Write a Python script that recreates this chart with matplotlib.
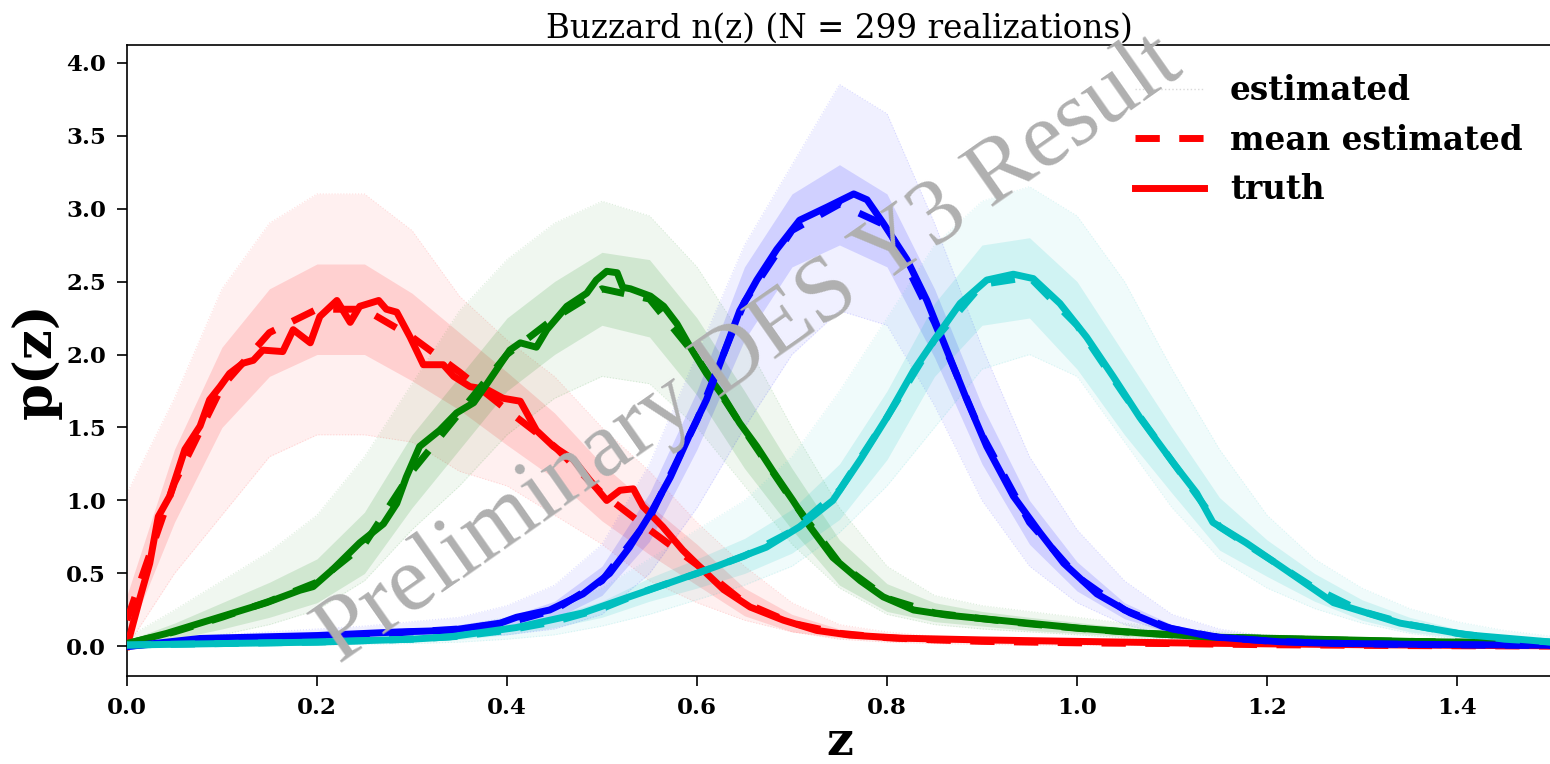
import numpy as np
import matplotlib
matplotlib.use('Agg')
import matplotlib.pyplot as plt
from matplotlib.lines import Line2D

plt.rcParams['font.family'] = 'DejaVu Serif'

# common grid for the smooth curves (mean and realization envelopes)
zg = np.round(np.arange(0, 1.5001, 0.05), 3)

# bin 1 (red)
z_truth_1 = [0.0, 0.014, 0.024, 0.033, 0.045, 0.061, 0.077, 0.087, 0.098, 0.108,
             0.122, 0.133, 0.143, 0.164, 0.175, 0.193, 0.203, 0.221, 0.235, 0.245,
             0.265, 0.273, 0.284, 0.298, 0.312, 0.333, 0.344, 0.361, 0.379, 0.396,
             0.414, 0.431, 0.449, 0.47, 0.487, 0.505, 0.519, 0.533, 0.543, 0.564,
             0.585, 0.607, 0.628, 0.656, 0.691, 0.726, 0.761, 0.814, 0.9, 1.0,
             1.1, 1.2, 1.3, 1.4, 1.5]
p_truth_1 = [0.0, 0.34, 0.57, 0.89, 1.03, 1.35, 1.51, 1.69, 1.78, 1.87,
             1.94, 1.96, 2.03, 2.02, 2.17, 2.08, 2.26, 2.37, 2.22, 2.33,
             2.37, 2.31, 2.29, 2.12, 1.93, 1.93, 1.85, 1.78, 1.76, 1.70,
             1.68, 1.48, 1.37, 1.28, 1.14, 1.00, 1.07, 1.08, 0.96, 0.82,
             0.66, 0.52, 0.39, 0.27, 0.18, 0.11, 0.078, 0.057, 0.045, 0.035,
             0.025, 0.018, 0.012, 0.008, 0.005]
mean_1 = [0.18, 1.12, 1.78, 2.15, 2.31, 2.31, 2.12, 1.88, 1.62, 1.37, 1.05, 0.8, 0.56,
          0.3, 0.16, 0.09, 0.06, 0.045, 0.035, 0.03, 0.025, 0.022, 0.02, 0.016, 0.012,
          0.01, 0.008, 0.006, 0.005, 0.004, 0.003]
hi_1 = [1.05, 1.7, 2.45, 2.9, 3.1, 3.1, 2.85, 2.4, 2.1, 1.85, 1.5, 1.2, 0.85, 0.55, 0.3,
        0.15, 0.1, 0.07, 0.05, 0.04, 0.03, 0.03, 0.025, 0.02, 0.015, 0.012, 0.01, 0.008,
        0.006, 0.005, 0.004]
lo_1 = [0.0, 0.5, 0.9, 1.3, 1.45, 1.45, 1.4, 1.2, 1.1, 0.9, 0.7, 0.45, 0.3, 0.18, 0.1,
        0.05, 0.03, 0.02, 0.015, 0.01, 0.01, 0.008, 0.006, 0.005, 0.004, 0.003, 0.002,
        0.002, 0.001, 0.001, 0.0]
core_hi_1 = [0.35, 1.35, 2.05, 2.45, 2.62, 2.62, 2.42, 2.15, 1.88, 1.6, 1.25, 0.97, 0.7,
             0.4, 0.22, 0.12, 0.08, 0.06, 0.045, 0.038, 0.032, 0.028, 0.024, 0.02, 0.015,
             0.012, 0.01, 0.008, 0.006, 0.005, 0.004]
core_lo_1 = [0.05, 0.85, 1.5, 1.85, 2.0, 2.0, 1.82, 1.62, 1.38, 1.15, 0.86, 0.63, 0.42,
             0.21, 0.1, 0.06, 0.04, 0.03, 0.025, 0.022, 0.018, 0.016, 0.014, 0.012, 0.009,
             0.007, 0.006, 0.004, 0.003, 0.002, 0.002]

# bin 2 (green)
z_truth_2 = [0.0, 0.042, 0.077, 0.112, 0.147, 0.182, 0.196, 0.217, 0.245, 0.27,
             0.284, 0.294, 0.308, 0.329, 0.347, 0.365, 0.379, 0.403, 0.414, 0.431,
             0.442, 0.463, 0.484, 0.494, 0.505, 0.516, 0.522, 0.53, 0.551, 0.565,
             0.579, 0.593, 0.61, 0.628, 0.645, 0.663, 0.68, 0.701, 0.719, 0.743,
             0.772, 0.796, 0.828, 0.863, 0.933, 1.003, 1.073, 1.143, 1.249, 1.35, 1.5]
p_truth_2 = [0.02, 0.09, 0.16, 0.23, 0.30, 0.385, 0.41, 0.53, 0.71, 0.84,
             0.98, 1.16, 1.37, 1.48, 1.60, 1.67, 1.80, 2.03, 2.08, 2.05,
             2.17, 2.33, 2.42, 2.51, 2.57, 2.56, 2.46, 2.45, 2.40, 2.33,
             2.21, 2.05, 1.87, 1.71, 1.53, 1.37, 1.20, 1.00, 0.82, 0.61,
             0.45, 0.34, 0.25, 0.215, 0.17, 0.125, 0.09, 0.064, 0.05, 0.035, 0.02]
mean_2 = [0.02, 0.1, 0.2, 0.31, 0.44, 0.7, 1.2, 1.6, 2.0, 2.25, 2.45, 2.38, 1.98, 1.48,
          1.0, 0.57, 0.33, 0.23, 0.19, 0.155, 0.125, 0.1, 0.08, 0.065, 0.055, 0.048, 0.04,
          0.035, 0.03, 0.025, 0.02]
hi_2 = [0.06, 0.25, 0.45, 0.65, 0.9, 1.3, 1.8, 2.3, 2.65, 2.9, 3.05, 2.95, 2.6, 2.1, 1.5,
        0.95, 0.55, 0.35, 0.28, 0.24, 0.2, 0.16, 0.13, 0.1, 0.08, 0.07, 0.06, 0.05, 0.045,
        0.04, 0.035]
lo_2 = [0.0, 0.03, 0.08, 0.15, 0.25, 0.45, 0.8, 1.1, 1.45, 1.7, 1.85, 1.8, 1.5, 1.1, 0.7,
        0.4, 0.22, 0.15, 0.12, 0.1, 0.08, 0.06, 0.05, 0.04, 0.035, 0.03, 0.025, 0.02, 0.015,
        0.012, 0.01]
core_hi_2 = [0.04, 0.16, 0.3, 0.44, 0.6, 0.92, 1.45, 1.85, 2.25, 2.5, 2.7, 2.65, 2.25,
             1.75, 1.22, 0.73, 0.43, 0.3, 0.24, 0.2, 0.165, 0.13, 0.1, 0.085, 0.07, 0.06,
             0.052, 0.045, 0.04, 0.033, 0.027]
core_lo_2 = [0.005, 0.05, 0.12, 0.2, 0.3, 0.5, 0.95, 1.35, 1.75, 2.0, 2.2, 2.12, 1.72,
             1.22, 0.8, 0.42, 0.24, 0.17, 0.14, 0.11, 0.09, 0.07, 0.06, 0.048, 0.04, 0.035,
             0.03, 0.025, 0.02, 0.017, 0.014]

# bin 3 (blue)
z_truth_3 = [0.0, 0.077, 0.2, 0.287, 0.34, 0.393, 0.41, 0.445, 0.48, 0.508,
             0.529, 0.551, 0.572, 0.593, 0.61, 0.645, 0.663, 0.684, 0.708, 0.737,
             0.765, 0.779, 0.796, 0.821, 0.842, 0.863, 0.884, 0.905, 0.933, 0.961,
             0.986, 1.021, 1.056, 1.091, 1.143, 1.214, 1.266, 1.35, 1.5]
p_truth_3 = [0.0, 0.055, 0.075, 0.10, 0.11, 0.16, 0.2, 0.25, 0.36, 0.50,
             0.68, 0.91, 1.16, 1.46, 1.69, 2.30, 2.51, 2.72, 2.92, 3.01,
             3.10, 3.06, 2.90, 2.65, 2.37, 2.03, 1.69, 1.37, 1.03, 0.78,
             0.57, 0.36, 0.23, 0.135, 0.066, 0.032, 0.022, 0.015, 0.008]
mean_3 = [0.0, 0.03, 0.05, 0.06, 0.07, 0.08, 0.1, 0.12, 0.16, 0.25, 0.45, 0.88, 1.55,
          2.36, 2.85, 3.03, 2.88, 2.22, 1.45, 0.85, 0.48, 0.25, 0.12, 0.062, 0.038, 0.025,
          0.018, 0.014, 0.011, 0.009, 0.007]
hi_3 = [0.01, 0.05, 0.08, 0.1, 0.12, 0.14, 0.17, 0.2, 0.28, 0.42, 0.7, 1.25, 2.0, 2.75,
        3.3, 3.85, 3.65, 2.9, 2.05, 1.3, 0.8, 0.45, 0.22, 0.12, 0.07, 0.04, 0.03, 0.025,
        0.02, 0.015, 0.012]
lo_3 = [0.0, 0.01, 0.02, 0.03, 0.04, 0.05, 0.06, 0.07, 0.08, 0.12, 0.22, 0.5, 0.95, 1.5,
        2.0, 2.3, 2.2, 1.65, 1.0, 0.55, 0.3, 0.15, 0.07, 0.035, 0.02, 0.012, 0.008, 0.006,
        0.005, 0.004, 0.003]
core_hi_3 = [0.005, 0.04, 0.06, 0.075, 0.09, 0.1, 0.12, 0.15, 0.2, 0.31, 0.55, 1.05, 1.75,
             2.6, 3.1, 3.3, 3.1, 2.45, 1.65, 1.0, 0.58, 0.3, 0.15, 0.08, 0.05, 0.03,
             0.022, 0.017, 0.013, 0.011, 0.009]
core_lo_3 = [0.0, 0.02, 0.04, 0.05, 0.055, 0.065, 0.08, 0.095, 0.12, 0.19, 0.35, 0.72, 1.35,
             2.1, 2.6, 2.75, 2.6, 1.98, 1.25, 0.7, 0.38, 0.19, 0.09, 0.047, 0.028, 0.018,
             0.013, 0.01, 0.008, 0.006, 0.005]

# bin 4 (cyan)
z_truth_4 = [0.0, 0.2, 0.3, 0.34, 0.41, 0.48, 0.551, 0.621, 0.673, 0.708,
             0.743, 0.772, 0.80, 0.828, 0.852, 0.877, 0.905, 0.933, 0.954, 0.982,
             1.01, 1.038, 1.066, 1.101, 1.126, 1.143, 1.178, 1.214, 1.27, 1.34,
             1.41, 1.5]
p_truth_4 = [0.01, 0.03, 0.05, 0.066, 0.13, 0.23, 0.39, 0.55, 0.68, 0.82,
             1.00, 1.28, 1.57, 1.89, 2.12, 2.35, 2.51, 2.55, 2.52, 2.35,
             2.12, 1.85, 1.57, 1.26, 1.05, 0.85, 0.71, 0.55, 0.30, 0.16,
             0.08, 0.03]
mean_4 = [0.01, 0.015, 0.02, 0.025, 0.03, 0.04, 0.05, 0.07, 0.11, 0.17, 0.26, 0.39, 0.5,
          0.62, 0.79, 1.07, 1.57, 2.1, 2.48, 2.53, 2.2, 1.72, 1.27, 0.82, 0.61, 0.4, 0.24,
          0.15, 0.09, 0.05, 0.03]
hi_4 = [0.03, 0.04, 0.05, 0.06, 0.07, 0.09, 0.11, 0.14, 0.2, 0.28, 0.4, 0.6, 0.8, 1.0,
        1.3, 1.75, 2.25, 2.75, 3.05, 3.15, 2.95, 2.5, 1.9, 1.35, 0.9, 0.6, 0.4, 0.26, 0.17,
        0.11, 0.07]
lo_4 = [0.0, 0.0, 0.0, 0.005, 0.01, 0.015, 0.02, 0.03, 0.05, 0.08, 0.14, 0.22, 0.32, 0.42,
        0.55, 0.78, 1.1, 1.5, 1.9, 2.0, 1.85, 1.4, 0.95, 0.6, 0.4, 0.26, 0.16, 0.09, 0.05,
        0.03, 0.015]
core_hi_4 = [0.02, 0.025, 0.03, 0.04, 0.045, 0.055, 0.07, 0.095, 0.14, 0.21, 0.31, 0.47,
             0.6, 0.74, 0.94, 1.25, 1.75, 2.35, 2.75, 2.8, 2.5, 2.0, 1.5, 1.02, 0.73, 0.5,
             0.32, 0.2, 0.12, 0.075, 0.045]
core_lo_4 = [0.0, 0.005, 0.01, 0.012, 0.015, 0.025, 0.032, 0.048, 0.08, 0.13, 0.2, 0.31,
             0.4, 0.5, 0.64, 0.87, 1.28, 1.85, 2.2, 2.25, 1.9, 1.45, 1.05, 0.66, 0.48, 0.31,
             0.18, 0.1, 0.06, 0.035, 0.018]

colors = ['r', 'g', 'b', 'c']
bins = [
    (z_truth_1, p_truth_1, mean_1, hi_1, lo_1, core_hi_1, core_lo_1),
    (z_truth_2, p_truth_2, mean_2, hi_2, lo_2, core_hi_2, core_lo_2),
    (z_truth_3, p_truth_3, mean_3, hi_3, lo_3, core_hi_3, core_lo_3),
    (z_truth_4, p_truth_4, mean_4, hi_4, lo_4, core_hi_4, core_lo_4),
]

fig = plt.figure(figsize=(15.5, 7.64), dpi=100)
ax = fig.add_axes([0.0819, 0.1156, 0.9194, 0.8255])

# spread of the 299 realizations: faint outer envelope plus denser core
for c, (zt, pt, mu, hi, lo, chi, clo) in zip(colors, bins):
    ax.fill_between(zg, lo, hi, color=c, alpha=0.06, lw=0, zorder=1)
    ax.fill_between(zg, clo, chi, color=c, alpha=0.13, lw=0, zorder=1)
    ax.plot(zg, hi, color=c, ls=':', lw=0.8, alpha=0.12, zorder=1)
    ax.plot(zg, lo, color=c, ls=':', lw=0.8, alpha=0.12, zorder=1)

for i, (c, (zt, pt, mu, hi, lo, chi, clo)) in enumerate(zip(colors, bins)):
    ax.plot(zg, mu, color=c, lw=5, ls='--', dashes=(3.5, 2.8), zorder=3 + 2 * i)
    ax.plot(zt, pt, color=c, lw=5, zorder=4 + 2 * i)

ax.set_xlim(0, 1.5)
ax.set_ylim(-0.2, 4.12)
ax.set_xticks(np.arange(0, 1.41, 0.2))
ax.set_yticks(np.arange(0, 4.01, 0.5))
ax.tick_params(direction='out', length=7, width=1.2, pad=8, labelsize=16.5,
               top=False, right=False)
for lab in ax.get_xticklabels() + ax.get_yticklabels():
    lab.set_fontweight('bold')
for sp in ax.spines.values():
    sp.set_linewidth(1.2)

ax.set_xlabel('z', fontsize=34, fontweight='bold', labelpad=0)
ax.set_ylabel('p(z)', fontsize=38, fontweight='bold', labelpad=3)
ax.set_title('Buzzard n(z) (N = 299 realizations)', fontsize=23.5, pad=5)

handles = [
    Line2D([], [], color='0.85', lw=1, ls=':'),
    Line2D([], [], color='r', lw=5, ls='--', dashes=(3.5, 2.8)),
    Line2D([], [], color='r', lw=5),
]
ax.legend(handles, ['estimated', 'mean estimated', 'truth'], loc='upper right',
          frameon=False, handlelength=2.1, prop={'weight': 'bold', 'size': 23.5})

ax.text(0.437, 0.516, 'Preliminary DES Y3 Result', transform=ax.transAxes,
        rotation=35, ha='center', va='center', fontsize=67, color='#b0b0b0',
        family='Liberation Serif', zorder=20, rotation_mode='anchor')

fig.savefig('out.png', dpi=100)
